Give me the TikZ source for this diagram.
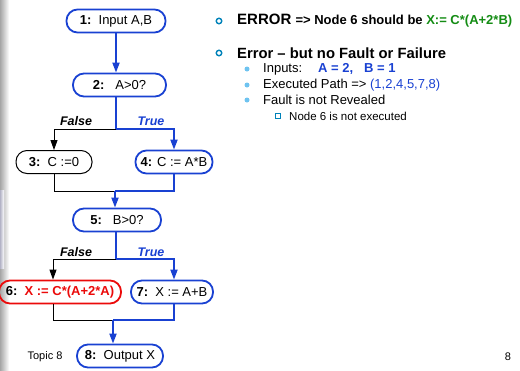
\documentclass[tikz,border=0pt]{standalone}
\usepackage{fontspec}
\setmainfont{Liberation Sans}
\usetikzlibrary{arrows.meta}
\definecolor{fblue}{RGB}{25,65,210}
\definecolor{fred}{RGB}{235,10,10}
\definecolor{fgreen}{RGB}{20,140,20}
\definecolor{bteal}{RGB}{0,130,185}
\definecolor{blight}{RGB}{110,195,240}
\begin{document}
\begin{tikzpicture}[x=1pt,y=-1pt,
  pill/.style={rounded corners=11pt,minimum height=23pt,inner sep=0pt,font=\fontsize{13}{15}\selectfont},
  bbox/.style={pill,draw=fblue,line width=1.8pt},
  kbox/.style={pill,draw=black,line width=1pt},
  rbox/.style={pill,draw=fred,line width=1.8pt},
  bline/.style={draw=fblue,line width=1.8pt},
  kline/.style={draw=black,line width=0.9pt},
  barrow/.style={bline,-{Triangle[length=10pt,width=7pt]}},
  karrow/.style={kline,-{Triangle[length=10pt,width=7pt]}},
  lbl/.style={font=\fontsize{12.5}{14}\selectfont\bfseries\itshape,inner sep=0pt},
  txt/.style={anchor=west,inner sep=0pt},
  subdot/.style={circle,fill=blight,inner sep=0pt,minimum size=5pt},
  subtxt/.style={txt,font=\fontsize{13}{15}\selectfont},
]
\useasboundingbox (0,0) rectangle (520,370);
\shade[left color=black!35, right color=white] (0,0) rectangle (9,370);
\shade[left color=blue!25!black!30, right color=white] (0,190) rectangle (4,268);

% flowchart nodes
\node[bbox,minimum width=99pt] (n1) at (116,21) {\textbf{1:}\ \ Input A,B};
\node[bbox,minimum width=93pt] (n2) at (119.5,85) {\textbf{2:}\ \ \ A>0?};
\node[kbox,minimum width=76pt] (n3) at (54,162) {\textbf{3:}\ \ C :=0};
\node[bbox,minimum width=77pt] (n4) at (174,162) {\textbf{4:} C := A*B};
\node[bbox,minimum width=88pt] (n5) at (117,220) {\textbf{5:}\ \ \ B>0?};
\node[rbox,minimum width=122pt] (n6) at (60,292) {\textbf{6:}\ \ \textcolor{fred}{\textbf{X := C*(A+2*A)}}};
\node[bbox,minimum width=82pt] (n7) at (172,292) {\textbf{7:}\ \ X := A+B};
\node[bbox,minimum width=86pt] (n8) at (120,356) {\textbf{8:}\ \ Output X};

\coordinate (j1) at (116,129);
\coordinate (j2) at (115,191);
\coordinate (j3) at (116,259);
\coordinate (j4) at (113,320);

% connectors
\draw[barrow] (n1.south) -- (n1.south |- n2.north);
\draw[bline] (n2.south -| j1) -- (j1);
\draw[barrow] (j1) -| (n4.north);
\draw[karrow] (j1) -| (n3.north);
\draw[kline] (n3.south) |- (j2);
\draw[bline] (n4.south) |- (j2);
\draw[barrow] (j2) -- (j2 |- n5.north);
\draw[bline] (n5.south -| j3) -- (j3);
\draw[barrow] (j3) -| ([xshift=2pt]n7.north);
\draw[karrow] (j3) -| ([xshift=-7pt]n6.north);
\draw[kline] ([xshift=-7pt]n6.south) |- (j4);
\draw[bline] ([xshift=2pt]n7.south) |- (j4);
\draw[barrow] (j4) -- (j4 |- n8.north);

% branch labels
\node[lbl] (f1) at (76,121) {False};
\node[lbl,text=fblue] (t1) at (151,121) {True};
\node[lbl] (f2) at (76,252) {False};
\node[lbl,text=fblue] (t2) at (151,252) {True};

% footer
\node[inner sep=0pt,font=\fontsize{11}{13}\selectfont] (topic) at (45,357) {Topic 8};
\node[inner sep=0pt,font=\fontsize{11}{13}\selectfont] (pg) at (508,357) {8};

% right text
\node[circle,draw=bteal,line width=1.4pt,inner sep=0pt,minimum size=5.5pt] (b1) at (219,21) {};
\node[txt] (e1) at (237,21) {\bfseries\fontsize{15}{17}\selectfont ERROR \fontsize{13}{15}\selectfont => Node 6 should be \textcolor{fgreen}{X:= C*(A+2*B)}};
\node[circle,draw=bteal,line width=1.4pt,inner sep=0pt,minimum size=5.5pt] (b2) at (219,53) {};
\node[txt] (e2) at (237,53) {\bfseries\fontsize{14.8}{17}\selectfont Error – but no Fault or Failure};
\node[subdot] (d1) at (247,69) {};
\node[subtxt] (s1) at (263,69) {Inputs:\hspace{16pt}\textcolor{fblue}{\textbf{A = 2,\ \ \ B = 1}}};
\node[subdot] (d2) at (247,85) {};
\node[subtxt] (s2) at (263,85) {Executed Path => \textcolor{fblue}{(1,2,4,5,7,8)}};
\node[subdot] (d3) at (247,100) {};
\node[subtxt] (s3) at (263,100) {Fault is not Revealed};
\node[draw=bteal,fill=white,line width=1.2pt,inner sep=0pt,minimum size=4.5pt] (q1) at (278,116) {};
\node[txt,font=\fontsize{11.5}{13}\selectfont] (s4) at (289,116) {Node 6 is not executed};
\end{tikzpicture}
\end{document}
